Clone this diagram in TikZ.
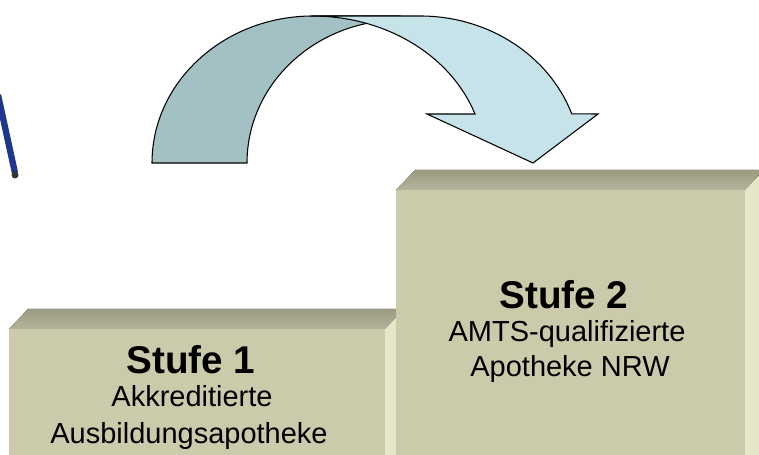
\documentclass[tikz,border=0pt]{standalone}
\usepackage{fontspec}
\setmainfont{Liberation Sans}
\definecolor{stepfront}{RGB}{203,203,171}
\definecolor{steptop}{RGB}{168,168,140}
\definecolor{stepside}{RGB}{228,228,198}
\definecolor{arrowback}{RGB}{163,193,196}
\definecolor{arrowfront}{RGB}{197,227,232}
\definecolor{stickblue}{RGB}{30,55,140}
\begin{document}
\begin{tikzpicture}[x=0.02cm,y=0.02cm,
  frontface/.style={fill=stepfront},
  topface/.style={top color=steptop!92!black,bottom color=steptop!85!white},
  sideface/.style={left color=stepside!90!white,right color=stepside},
  arrowpart/.style={draw=black,line width=0.6pt,line join=miter},
  steptitle/.style={inner sep=0pt,anchor=base,font=\fontsize{22}{26}\selectfont\bfseries},
  steptext/.style={inner sep=0pt,anchor=base,font=\fontsize{16.5}{20}\selectfont}]
  \useasboundingbox (0,0) rectangle (759,455);
  \clip (0,0) rectangle (759,455);
  \draw[stickblue,line width=3.6pt] (-2,360) -- (15,282);
  \fill[black!80] (15,280) circle[radius=3.5];
  \fill[topface] (9,126) -- (28,146) -- (404,146) -- (385,126) -- cycle;
  \fill[sideface] (385,126) -- (404,146) -- (404,-5) -- (385,-5) -- cycle;
  \fill[frontface] (9,-5) rectangle (385,126);
  \fill[topface] (396,265) -- (415,285) -- (764,285) -- (745,265) -- cycle;
  \fill[sideface] (745,265) -- (764,285) -- (764,-5) -- (745,-5) -- cycle;
  \fill[frontface] (396,-5) rectangle (745,265);
  \node[steptitle] (S1-title) at (191,81) {Stufe 1};
  \node[steptext] (S1-a) at (192,48) {Akkreditierte};
  \node[steptext] (S1-b) at (189,11) {Ausbildungsapotheke};
  \node[steptitle] (S2-title) at (564,146) {Stufe 2};
  \node[steptext] (S2-a) at (567,113) {AMTS-qualifizierte};
  \node[steptext] (S2-b) at (570,78) {Apotheke NRW};
  \filldraw[arrowpart,fill=arrowback] (152,292) arc[start angle=180,end angle=90,x radius=161,y radius=147]
    -- (400,439) -- (400,435) arc[start angle=90,end angle=180,x radius=153,y radius=143] -- cycle;
  \filldraw[arrowpart,fill=arrowfront] (313,439) -- (420,439)
    arc[start angle=90,end angle=19.5,x radius=161,y radius=147]
    -- (598,341) -- (533,292) -- (427,341) -- (475,341)
    arc[start angle=19.5,end angle=90,x radius=172,y radius=147] -- cycle;
\end{tikzpicture}
\end{document}
